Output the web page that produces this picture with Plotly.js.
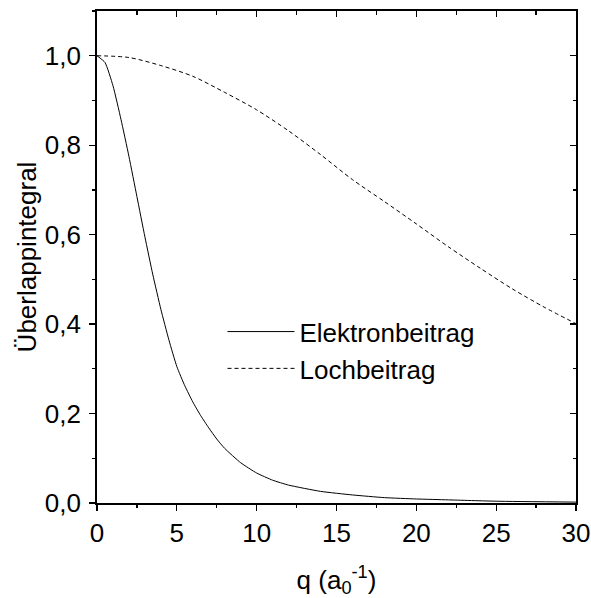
<!DOCTYPE html>
<html>
<head>
<meta charset="utf-8">
<script src="https://cdn.plot.ly/plotly-3.0.1.min.js"></script>
<style>html,body{margin:0;padding:0;background:#fff;}#chart{width:591px;height:598px;}</style>
</head>
<body>
<div id="chart"></div>
<script>
// Elektronbeitrag (solid)
const qElektron = [0, 0.5, 1, 1.5, 2, 2.5, 3, 3.5, 4, 4.5, 5, 5.5, 6, 6.5, 7, 7.5, 8, 9, 10, 11, 12, 14, 16, 18, 20, 22, 25, 30];
const yElektron = [1.0, 0.985, 0.933, 0.858, 0.775, 0.685, 0.595, 0.51, 0.433, 0.365, 0.305, 0.262, 0.226, 0.195, 0.168, 0.143, 0.122, 0.09, 0.067, 0.051, 0.04, 0.026, 0.018, 0.012, 0.009, 0.007, 0.004, 0.002];
// Lochbeitrag (dashed)
const qLoch = [0, 2, 4, 6, 8, 10, 12, 14, 16, 18, 20, 22, 24, 26, 28, 30];
const yLoch = [1.0, 0.996, 0.978, 0.954, 0.918, 0.879, 0.832, 0.779, 0.723, 0.674, 0.624, 0.573, 0.525, 0.479, 0.438, 0.401];
const seriesNames = ['Elektronbeitrag', 'Lochbeitrag'];
const xTitle = 'q (a<sub>0</sub><sup>-1</sup>)';
const yTitle = 'Überlappintegral';

const FONT = 'Liberation Sans, Arial, Helvetica, sans-serif';
const FS = 26;

const traces = [
  {x: qElektron, y: yElektron, name: seriesNames[0], type: 'scatter', mode: 'lines',
   line: {color: '#000', width: 1, shape: 'spline', smoothing: 0.5}},
  {x: qLoch, y: yLoch, name: seriesNames[1], type: 'scatter', mode: 'lines',
   line: {color: '#000', width: 1, dash: '4px,3px', shape: 'spline', smoothing: 0.8}},
  {x: [null], y: [null], xaxis: 'x2', yaxis: 'y2', showlegend: false, hoverinfo: 'skip', mode: 'lines'}
];

const layout = {
  width: 591, height: 598,
  margin: {l: 97, r: 15, t: 11, b: 95},
  paper_bgcolor: '#fff', plot_bgcolor: '#fff',
  separators: ',.',
  font: {family: FONT, size: FS, color: '#000'},
  showlegend: true,
  legend: {x: 0.262, xanchor: 'left', y: 0.396, yanchor: 'top',
           font: {family: FONT, size: FS, color: '#000'},
           bgcolor: 'rgba(0,0,0,0)', borderwidth: 0, itemwidth: 67,
           tracegroupgap: 0},
  xaxis: {range: [0, 30], dtick: 5, tick0: 0, ticks: 'outside', ticklen: 6, tickwidth: 1.3,
          tickcolor: '#000', showline: true, linecolor: '#000', linewidth: 1.8,
          showgrid: false, zeroline: false,
          minor: {dtick: 2.5, ticks: 'outside', ticklen: 3.5, tickwidth: 1.3, tickcolor: '#000', showgrid: false},
          tickfont: {family: FONT, size: FS, color: '#000'},
          title: {text: xTitle, font: {family: FONT, size: FS, color: '#000'}, standoff: 25}},
  yaxis: {range: [0, 1.1], dtick: 0.2, tick0: 0, tickformat: '.1f', ticks: 'outside', ticklen: 6, tickwidth: 1.3,
          tickcolor: '#000', showline: true, linecolor: '#000', linewidth: 1.8,
          showgrid: false, zeroline: false, ticklabelstandoff: 3,
          minor: {dtick: 0.1, ticks: 'outside', ticklen: 3.5, tickwidth: 1.3, tickcolor: '#000', showgrid: false},
          tickfont: {family: FONT, size: FS, color: '#000'},
          title: {text: yTitle, font: {family: FONT, size: FS, color: '#000'}, standoff: 1}},
  xaxis2: {overlaying: 'x', side: 'top', anchor: 'y2', range: [0, 30], dtick: 5, tick0: 0,
           ticks: 'inside', ticklen: 6, tickwidth: 1.3, tickcolor: '#000', showticklabels: false,
           showline: true, linecolor: '#000', linewidth: 1.8, showgrid: false, zeroline: false,
           minor: {dtick: 2.5, ticks: 'inside', ticklen: 3.5, tickwidth: 1.3, tickcolor: '#000', showgrid: false}},
  yaxis2: {overlaying: 'y', side: 'right', anchor: 'x2', range: [0, 1.1], dtick: 0.2, tick0: 0,
           ticks: 'inside', ticklen: 6, tickwidth: 1.3, tickcolor: '#000', showticklabels: false,
           showline: true, linecolor: '#000', linewidth: 1.8, showgrid: false, zeroline: false,
           minor: {dtick: 0.1, ticks: 'inside', ticklen: 3.5, tickwidth: 1.3, tickcolor: '#000', showgrid: false}}
};

Plotly.newPlot('chart', traces, layout, {staticPlot: true, displayModeBar: false});
</script>
</body>
</html>
